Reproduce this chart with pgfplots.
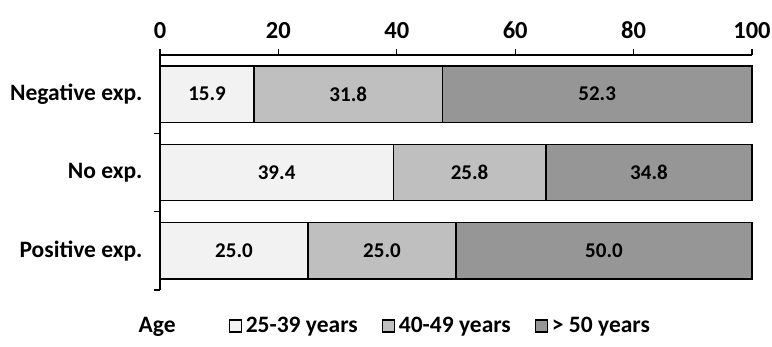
\documentclass[border=0pt]{standalone}
\usepackage{fontspec}
\setmainfont{Carlito}
\usepackage{pgfplots}
\pgfplotsset{compat=1.18}
\definecolor{cA}{HTML}{F2F2F2}
\definecolor{cB}{HTML}{BFBFBF}
\definecolor{cC}{HTML}{969696}
\begin{document}
\begin{tikzpicture}[x=1pt,y=1pt]
\path[use as bounding box] (-160,55) rectangle (612,-292);
\begin{axis}[
  at={(0,0)}, anchor=north west,
  scale only axis, width=592pt, height=235pt,
  xbar stacked,
  bar width=0.72,
  xmin=0, xmax=100,
  ymin=-0.5, ymax=2.5,
  axis x line*=top, axis y line*=left,
  axis line style={line width=1.6pt},
  xtick={0,20,40,60,80,100},
  xtick style={line width=1.4pt, black},
  major tick length=6pt,
  xtick align=outside,
  ytick={0,1,2},
  yticklabels={Positive exp.,No exp.,Negative exp.},
  major y tick style={draw=none},
  minor ytick={-0.5,0.5,1.5},
  minor y tick style={line width=1.4pt, black},
  minor tick length=6pt,
  ytick align=outside,
  yticklabel style={font=\fontsize{23.5}{26}\selectfont\bfseries, xshift=-8pt},
  xticklabel style={font=\fontsize{24.5}{27}\selectfont\bfseries, yshift=7pt},
  /pgf/number format/assume math mode=true,
  point meta=explicit,
  nodes near coords={\pgfmathprintnumber[fixed,fixed zerofill,precision=1]{\pgfplotspointmeta}},
  every node near coord/.append style={anchor=center, font=\fontsize{21}{24}\selectfont\bfseries},
  legend style={at={(0.394,-0.153)}, anchor=center, draw=none, legend columns=-1,
     font=\fontsize{23.5}{26}\selectfont\bfseries,
     /tikz/every even column/.append style={column sep=22pt},
     /tikz/every odd column/.append style={column sep=2pt}},
  legend image code/.code={\draw[#1, draw=black, line width=1.2pt] (0pt,-6pt) rectangle (12pt,6pt);},
  clip=false,
]
\addlegendimage{empty legend}\addlegendentry{\makebox[66pt][l]{Age}}
\addplot[fill=cA, draw=black, line width=1.3pt] coordinates {(25.0,0) [25.0] (39.4,1) [39.4] (15.9,2) [15.9]};
\addlegendentry{25-39 years}
\addplot[fill=cB, draw=black, line width=1.3pt] coordinates {(25.0,0) [25.0] (25.8,1) [25.8] (31.8,2) [31.8]};
\addlegendentry{40-49 years}
\addplot[fill=cC, draw=black, line width=1.3pt] coordinates {(50.0,0) [50.0] (34.8,1) [34.8] (52.3,2) [52.3]};
\addlegendentry{> 50 years}
\end{axis}
\end{tikzpicture}
\end{document}
